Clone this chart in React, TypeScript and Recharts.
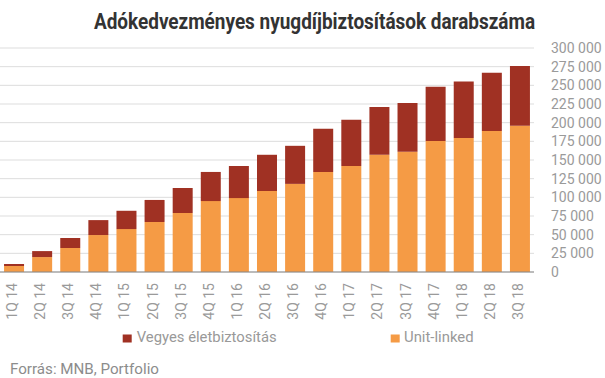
import React from 'react';
import { BarChart, Bar, XAxis, YAxis, CartesianGrid, Legend } from 'recharts';

const categories = [
  '1Q 14', '2Q 14', '3Q 14', '4Q 14',
  '1Q 15', '2Q 15', '3Q 15', '4Q 15',
  '1Q 16', '2Q 16', '3Q 16', '4Q 16',
  '1Q 17', '2Q 17', '3Q 17', '4Q 17',
  '1Q 18', '2Q 18', '3Q 18',
];
const unitLinked = [
  8000, 20000, 32000, 49500, 57500, 67000, 79000, 95000, 99000, 108500,
  118000, 134000, 142000, 157000, 161000, 175500, 179500, 189000, 196000,
];
const vegyes = [
  2700, 8000, 13500, 20000, 24500, 29500, 33500, 39000, 43000, 48500,
  51000, 58000, 62000, 64000, 65500, 72500, 75500, 78000, 80000,
];
const yTicks = [0, 25000, 50000, 75000, 100000, 125000, 150000, 175000, 200000, 225000, 250000, 275000, 300000];

const seriesNames = { vegyes: 'Vegyes életbiztosítás', unit: 'Unit-linked' };
const colors = { vegyes: '#A03123', unit: '#F59B45' };

const data = categories.map((c, i) => ({ cat: c, unit: unitLinked[i], vegyes: vegyes[i] }));

const fmt = (v: number) => String(v).replace(/\B(?=(\d{3})+(?!\d))/g, ' ');

const FONT = 'Roboto, "Noto Sans", sans-serif';

const XTick = (props: any) => {
  const { x, y, payload } = props;
  return (
    <g transform={`translate(${x},${y + 11})`}>
      <text
        transform="rotate(-90)"
        x={0}
        y={0}
        dy={3}
        textAnchor="end"
        fill="#9a9a9a"
        fontSize={14}
        fontFamily={FONT}
      >
        {payload.value}
      </text>
    </g>
  );
};

const legendItems = [
  { key: 'vegyes', sx: 122.7, tx: 136.7, len: 140 },
  { key: 'unit', sx: 390.7, tx: 404, len: 69.6 },
];

const renderLegend = () => (
  <svg width={605} height={378} style={{ position: 'absolute', left: 0, top: 0, overflow: 'visible' }}>
    {legendItems.map((it) => (
      <g key={it.key}>
        <rect x={it.sx} y={334.5} width={9} height={8} fill={(colors as any)[it.key]} />
        <text
          x={it.tx}
          y={342.3}
          fontSize={14.5}
          fill="#999"
          fontFamily={FONT}
          textLength={it.len}
          lengthAdjust="spacingAndGlyphs"
        >
          {(seriesNames as any)[it.key]}
        </text>
      </g>
    ))}
  </svg>
);

export default function App() {
  return (
    <div style={{ position: 'absolute', left: 0, top: 0, width: 605, height: 378, background: '#fff' }}>
      <BarChart
        width={605}
        height={378}
        data={data}
        margin={{ top: 48, right: 0, left: 0, bottom: 56 }}
        barCategoryGap="14.4%"
      >
        <CartesianGrid vertical={false} stroke="#dddddd" strokeWidth={1} />
        <XAxis
          dataKey="cat"
          height={50}
          interval={0}
          tickSize={0}
          tickMargin={0}
          tick={<XTick />}
          axisLine={{ stroke: '#888', strokeWidth: 1.2 }}
          tickLine={false}
        />
        <YAxis
          orientation="right"
          width={71}
          domain={[0, 300000]}
          ticks={yTicks}
          interval={0}
          tickFormatter={fmt}
          tickSize={0}
          tickMargin={17}
          axisLine={false}
          tickLine={false}
          tick={{ fill: '#9a9a9a', fontSize: 14, fontFamily: FONT }}
        />
        <Legend
          verticalAlign="middle"
          layout="horizontal"
          wrapperStyle={{ top: 0, left: 0, width: 605, height: 378, pointerEvents: 'none' }}
          content={renderLegend}
        />
        <Bar dataKey="unit" name={seriesNames.unit} stackId="a" fill={colors.unit} isAnimationActive={false} />
        <Bar dataKey="vegyes" name={seriesNames.vegyes} stackId="a" fill={colors.vegyes} isAnimationActive={false} />
      </BarChart>
      <svg
        width={605}
        height={378}
        style={{ position: 'absolute', left: 0, top: 0, pointerEvents: 'none' }}
      >
        <g transform="translate(314.5,29) scale(0.862,1)">
          <text
            x={0}
            y={0}
            fontSize={22}
            fontWeight={700}
            fill="#333"
            fontFamily={FONT}
            textAnchor="middle"
          >
            Adókedvezményes nyugdíjbiztosítások darabszáma
          </text>
        </g>
        <text
          x={10}
          y={374.3}
          fontSize={14.5}
          fill="#8c8c8c"
          fontFamily={FONT}
          textLength={149}
          lengthAdjust="spacingAndGlyphs"
        >
          Forrás: MNB, Portfolio
        </text>
      </svg>
    </div>
  );
}
